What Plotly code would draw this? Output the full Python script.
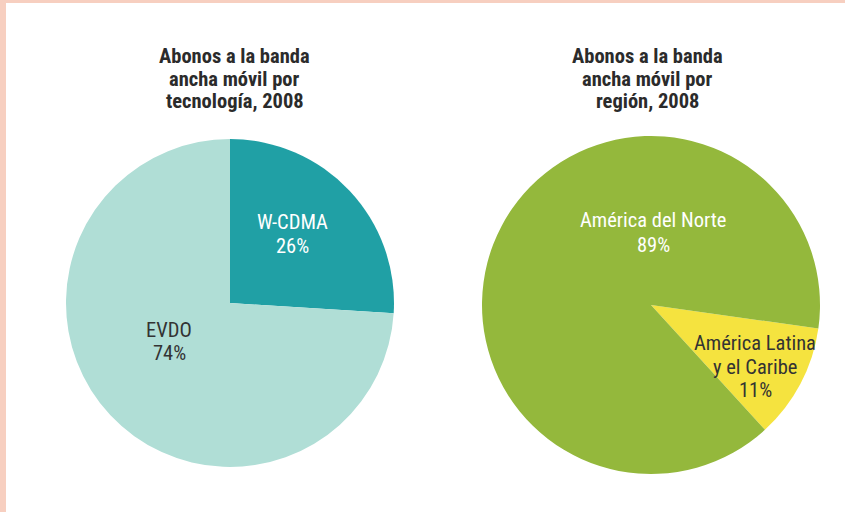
import plotly.graph_objects as go

W, H = 845, 512

tech_labels = ["W-CDMA", "EVDO"]
tech_values = [26, 74]
tech_colors = ["#20A0A5", "#B0DED6"]

region_labels = ["América Latina y el Caribe", "América del Norte"]
region_values = [11, 89]
region_colors = ["#F5E33F", "#94B83C"]

title_left = ["Abonos a la banda", "ancha móvil por", "tecnología, 2008"]
title_right = ["Abonos a la banda", "ancha móvil por", "región, 2008"]

FONT = "Roboto Condensed, Liberation Sans Narrow, sans-serif"


def dom(cx, cy, r):
    return dict(x=[(cx - r) / W, (cx + r) / W],
                y=[(H - cy - r) / H, (H - cy + r) / H])


fig = go.Figure()
fig.add_trace(go.Pie(labels=tech_labels, values=tech_values, sort=False,
                     direction="clockwise", rotation=0,
                     marker=dict(colors=tech_colors, line=dict(width=0)),
                     textinfo="none", hoverinfo="label+percent",
                     domain=dom(230, 303, 164), showlegend=False))
fig.add_trace(go.Pie(labels=region_labels, values=region_values, sort=False,
                     direction="clockwise", rotation=98,
                     marker=dict(colors=region_colors, line=dict(width=0)),
                     textinfo="none", hoverinfo="label+percent",
                     domain=dom(651, 305, 169), showlegend=False))


def px(x, y):
    return x / W, 1 - y / H


annots = []


def add_lines(cx, y0, dy, lines, size, color, bold):
    for i, line in enumerate(lines):
        ax, ay = px(cx, y0 + i * dy)
        annots.append(dict(x=ax, y=ay, xref="paper", yref="paper",
                           xanchor="center", yanchor="middle",
                           text=("<b>" + line + "</b>") if bold else line,
                           showarrow=False,
                           font=dict(family=FONT, size=size, color=color)))


add_lines(235, 56, 22.5, title_left, 20.5, "#2b2b2b", True)
add_lines(647, 56, 22.5, title_right, 20.5, "#2b2b2b", True)

add_lines(292, 222, 24, [tech_labels[0], f"{tech_values[0]}%"], 20.5, "white", False)
add_lines(169, 330, 23, [tech_labels[1], f"{tech_values[1]}%"], 20.5, "#333333", False)
add_lines(653, 220, 25, [region_labels[1], f"{region_values[1]}%"], 20.5, "white", False)
add_lines(755, 343, 23.5, ["América Latina", "y el Caribe", f"{region_values[0]}%"], 20.5, "#333333", False)

border = "#F7CFC0"
shapes = [
    dict(type="rect", xref="paper", yref="paper", x0=0, x1=1, y0=1 - 3 / H, y1=1,
         fillcolor=border, line=dict(width=0), layer="below"),
    dict(type="rect", xref="paper", yref="paper", x0=0, x1=6 / W, y0=0, y1=1,
         fillcolor=border, line=dict(width=0), layer="below"),
]

fig.update_layout(width=W, height=H, margin=dict(l=0, r=0, t=0, b=0),
                  paper_bgcolor="white", plot_bgcolor="white",
                  annotations=annots, shapes=shapes)

fig.write_html("out.html", config=dict(displayModeBar=False),
               post_script="document.body.style.margin='0';")
